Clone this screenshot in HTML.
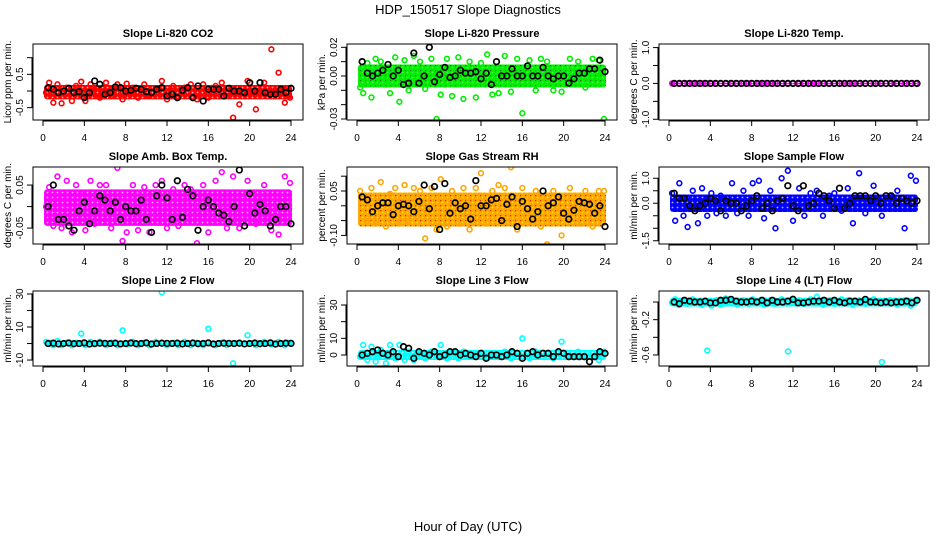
<!DOCTYPE html>
<html><head><meta charset="utf-8">
<style>
body{margin:0;background:#fff;}
svg{display:block;font-family:"Liberation Sans",Arial,sans-serif;}
</style></head>
<body>
<svg id="chart" width="936" height="540" viewBox="0 0 936 540">
<defs id="defs"></defs>
<text x="468" y="14" text-anchor="middle" font-size="13">HDP_150517  Slope Diagnostics</text>
<text x="468" y="531" text-anchor="middle" font-size="13">Hour of Day (UTC)</text>
</svg>
<script>
const xTicks=[0,4,8,12,16,20,24];
const colorHours=[0.3,0.6,1.0,1.4,1.8,2.3,2.8,3.2,3.7,4.1,4.6,5.0,5.5,6.1,6.6,7.2,7.7,8.1,8.7,9.2,9.8,10.3,10.9,11.5,12.0,12.6,13.1,13.7,14.3,14.9,15.5,16.0,16.7,17.3,17.8,18.4,19.0,19.8,20.6,21.4,22.1,22.8,23.4,23.9];
const blackHours=[0.5,1,1.5,2,2.5,3,3.5,4,4.5,5,5.5,6,6.5,7,7.5,8,8.5,9,9.5,10,10.5,11,11.5,12,12.5,13,13.5,14,14.5,15,15.5,16,16.5,17,17.5,18,18.5,19,19.5,20,20.5,21,21.5,22,22.5,23,23.5,24];
const panelTitles=["Slope Li-820 CO2","Slope Li-820 Pressure","Slope Li-820 Temp.","Slope Amb. Box Temp.","Slope Gas Stream RH","Slope Sample Flow","Slope Line 2 Flow","Slope Line 3 Flow","Slope Line 4 (LT) Flow"];
const yTitles=["Licor ppm per min.","kPa per min.","degrees C per min.","degrees C per min.","percent per min.","ml/min per min.","ml/min per min.","ml/min per min.","ml/min per min."];
const yTickVals=[[-0.5,0,0.5,1],[-0.03,-0.02,-0.01,0,0.01,0.02],[-1,-0.5,0,0.5,1],[-0.05,0,0.05],[-0.1,-0.05,0,0.05,0.1],[-1.5,-1,-0.5,0,0.5,1],[-10,0,10,20,30],[0,10,20,30],[-0.6,-0.4,-0.2,0]];
const yTickLabels=[["-0.5","","0.5",""],["-0.03","","","0.00","","0.02"],["-1.0","","0.0","","1.0"],["-0.05","","0.05"],["-0.10","","","0.05",""],["-1.5","","","0.0","","1.0"],["-10","","10","","30"],["0","10","","30"],["-0.6","","-0.2",""]];
const yRanges=[[-0.87,1.41],[-0.0307,0.0223],[-1.02,1.1],[-0.087,0.092],[-0.129,0.131],[-1.63,1.45],[-13.6,31.8],[-6.6,38.4],[-0.725,0.125]];
const bandLow=[-0.25,-0.008,-0.02,-0.045,-0.07,-0.35,-1,-3,-0.05];
const bandHigh=[0.18,0.008,0.02,0.04,0.045,0.35,1.5,3,0.05];
const colors=["#ff0000","#00ee00","#ff00ff","#ff00ff","#ffa500","#0000ff","#00ffff","#00ffff","#00ffff"];
const co2Color=[-0.05,0.25,-0.35,0.2,-0.37,0.1,-0.3,0.15,0.28,-0.3,0.2,0.05,-0.2,0.25,-0.15,0.2,-0.25,0.22,0.1,-0.2,0.2,-0.15,0.05,0.3,-0.25,0.15,-0.2,0.1,0.2,-0.25,0.2,-0.2,0.15,0.25,-0.15,-0.8,-0.4,0.3,-0.55,0.25,1.25,0.55,-0.35,-0.2];
const co2Black=[0.1,0.05,-0.05,0.0,0.08,-0.05,-0.02,-0.2,-0.05,0.3,0.2,-0.1,-0.05,0.12,0.1,0.0,0.02,0.08,0.05,-0.02,-0.05,0.05,0.1,-0.15,-0.1,-0.2,0.02,0.1,-0.2,0.15,-0.3,0.05,0.05,0.05,-0.15,0.08,0.0,0.0,-0.05,0.25,0.0,0.25,-0.05,-0.1,-0.1,0.05,-0.05,0.08];
const presColor=[-0.008,-0.012,0.009,-0.015,0.012,0.01,-0.006,-0.012,0.013,-0.018,0.011,-0.01,0.014,0.01,-0.009,0.012,-0.03,-0.013,0.012,-0.014,0.013,-0.016,0.01,-0.015,0.009,0.015,-0.013,-0.012,0.014,-0.011,0.012,-0.026,0.011,-0.01,0.012,0.01,-0.01,-0.011,0.012,0.01,-0.008,0.012,0.011,-0.03];
const presBlack=[0.01,0.002,0.0,0.002,0.004,0.008,0.0,0.004,-0.006,-0.005,0.016,-0.005,0.0,0.02,-0.004,0.001,0.006,-0.001,0.0,0.004,0.002,0.002,0.003,-0.002,0.002,-0.006,0.01,0.0,0.0,0.005,0.0,0.0,0.007,0.0,0.0,0.006,0.0,-0.002,0.0,0.0,-0.005,-0.002,0.002,0.002,0.005,0.005,0.011,0.003];
const tempColor=colorHours.map(()=>0);
const tempBlack=blackHours.map(()=>0);
const boxColor=[0.0,0.045,-0.045,0.07,-0.05,0.06,-0.06,0.05,0.03,-0.055,0.06,-0.04,0.05,0.05,-0.05,0.09,-0.08,-0.06,0.05,-0.055,0.045,-0.06,0.05,0.06,-0.05,0.04,-0.045,0.05,0.04,-0.085,0.05,-0.06,0.06,0.08,-0.05,0.07,-0.05,0.06,-0.04,0.05,-0.055,-0.065,0.07,0.055];
const boxBlack=[0.0,0.05,-0.03,-0.03,-0.045,-0.055,-0.01,0.01,-0.04,-0.01,0.025,0.015,-0.01,0.01,-0.03,0.0,-0.01,-0.01,0.015,-0.03,-0.06,0.025,0.05,0.02,-0.03,0.06,-0.025,0.04,0.025,-0.055,0.0,0.015,0.0,-0.015,-0.02,-0.035,0.0,0.085,-0.045,0.03,-0.015,0.005,-0.01,-0.045,-0.03,0.0,0.0,-0.04];
const rhColor=[0.05,0.03,-0.05,0.06,-0.06,0.08,-0.07,0.04,0.06,-0.06,0.07,-0.05,0.06,0.05,-0.11,0.06,-0.08,0.09,-0.07,0.05,-0.06,0.06,-0.08,0.06,0.11,-0.06,0.05,0.07,0.06,0.13,-0.08,0.06,-0.05,0.05,-0.07,-0.13,0.05,-0.1,0.06,-0.06,0.05,-0.07,0.05,0.05];
const rhBlack=[0.03,0.02,-0.02,0.0,0.01,0.01,-0.03,0.0,0.005,0.0,-0.02,0.015,0.07,-0.01,0.065,-0.08,0.075,-0.025,0.01,-0.01,0.0,-0.045,0.085,0.0,0.0,0.02,0.025,-0.05,0.005,0.03,-0.07,0.015,-0.01,-0.045,-0.02,0.05,0.0,0.01,0.03,-0.025,-0.045,-0.015,0.015,0.01,0.005,-0.025,0.0,-0.07];
const sampColor=[0.4,-0.7,0.8,-0.5,-0.95,0.5,-0.8,0.6,-0.5,0.4,-0.4,0.3,-0.5,0.8,-0.4,0.5,-0.5,0.8,0.9,-0.6,0.5,-1.0,1.0,1.3,-0.7,0.6,-0.5,0.4,0.5,-0.5,0.3,0.4,-0.3,0.6,-0.8,1.2,-0.4,0.7,-0.5,0.3,0.5,-1.0,1.1,0.9];
const sampBlack=[0.4,0.2,0.2,-0.1,-0.3,-0.1,0.0,0.2,0.1,-0.3,0.1,0.0,0.0,-0.3,-0.1,0.1,0.3,-0.2,0.0,-0.3,0.1,0.2,0.7,-0.1,-0.3,0.7,-0.1,0.0,0.4,0.3,0.1,-0.2,0.6,-0.2,0.0,0.3,0.3,0.3,0.1,0.3,0.0,0.3,0.3,0.0,0.2,0.1,0.0,0.1];
const l2Color=[1,0.5,-1,1.5,-1,0.5,-1,0.5,6,-1,1,-0.5,1,-1,0.5,-1,8,-0.5,1,-1,0.5,-1,1,31,-1,0.5,-1,1,-1,0.5,-1,9,-1,0.5,-1,-12,0.5,5,-1,1,-0.5,1,-1,0.5];
const l2Black=[0,0.2,-0.2,0,0.3,-0.1,0,0.4,-0.3,0,0.2,0.1,0,0.2,-0.2,0,0.3,-0.1,0,0.4,-0.3,0,0.2,0.1,0,0.2,-0.2,0,0.3,-0.1,0,0.4,-0.3,0,0.2,0.1,0,0.2,-0.2,0,0.3,-0.1,0,0.4,-0.3,0,0.2,0.1];
const l3Color=[-1,6,-3,5,-4,3,-5,6,-2,6,-3,2,-3,1,-2,2,-1,6,-2,1,-2,2,-1,1,41,-2,1,-1,2,-2,1,10,-2,2,-1,1,-2,8,-1,2,-1,1,-3,2];
const l3Black=[0,1,2,3,1,0,2,-1,5,4,-2,2,1,0,2,-1,0,2,2,0,1,0,-1,1,-2,0,0,-1,0,2,1,-2,1,2,0,1,1,-1,2,1,-1,-1,-1,-1,-4,-1,2,1];
const l4Color=[-0.01,0.03,-0.03,0.02,-0.02,0.03,0.0,-0.03,-0.55,-0.04,0.02,-0.03,0.04,0.02,-0.03,0.02,-0.02,0.03,0.0,-0.03,0.02,-0.02,0.03,-0.56,0.04,0.02,-0.02,0.03,0.06,-0.03,0.02,-0.02,0.03,0.02,-0.03,0.02,-0.02,0.03,-0.68,0.02,-0.03,0.02,-0.04,0.02];
const l4Black=[0.0,-0.02,0.02,0.01,0.0,0.0,0.01,-0.01,-0.01,0.02,0.02,0.03,0.01,0.0,0.0,0.01,0.0,0.02,-0.01,0.02,0.0,0.0,0.01,0.03,-0.01,-0.01,0.0,0.01,0.01,0.02,0.0,0.02,0.0,-0.01,0.01,0.01,0.0,0.03,0.0,0.0,-0.01,0.0,-0.01,0.0,0.0,0.01,-0.01,0.02];
const colorSeries=[co2Color,presColor,tempColor,boxColor,rhColor,sampColor,l2Color,l3Color,l4Color];
const blackSeries=[co2Black,presBlack,tempBlack,boxBlack,rhBlack,sampBlack,l2Black,l3Black,l4Black];

const NS="http://www.w3.org/2000/svg";
const svg=document.getElementById('chart');
const defs=document.getElementById('defs');
const colLeft=[33,347,659], rowTop=[44,167,291], boxW=270, boxH=[76,77,75];
function mk(tag,attrs,parent){const e=document.createElementNS(NS,tag);for(const k in attrs)e.setAttribute(k,attrs[k]);parent.appendChild(e);return e;}
function slug(s){return s.toLowerCase().replace(/[^a-z0-9]+/g,'-').replace(/^-|-$/g,'');}
for(let p=0;p<9;p++){
  const pat=mk('pattern',{id:'pt'+p,width:5,height:5,patternUnits:'userSpaceOnUse'},defs);
  mk('rect',{width:5,height:5,fill:colors[p]},pat);
  mk('circle',{cx:2.5,cy:2.5,r:0.9,fill:p===4?'#ffff00':'#ffffff',opacity:p===1?0.3:0.7},pat);
  if(p===1||p===4) mk('rect',{x:0,y:0,width:1.2,height:1.2,fill:p===1?'#117711':'#cc3300'},pat);
}
for(let p=0;p<9;p++){
  const L=colLeft[p%3], T=rowTop[Math.floor(p/3)], H=boxH[Math.floor(p/3)];
  const [y0,y1]=yRanges[p];
  const xs=h=>L+10+h*248/24;
  const ys=v=>T+H-(v-y0)/(y1-y0)*H;
  const g=mk('g',{},svg);
  
  
  const t=mk('text',{x:L+boxW/2,y:T-7,'text-anchor':'middle','font-size':'11','font-weight':'bold'},g);
  t.textContent=panelTitles[p];
  
  
  const cid='c'+p;
  const cp=mk('clipPath',{id:cid},g); mk('rect',{x:L,y:T,width:boxW,height:H},cp);
  const pg=mk('g',{'clip-path':'url(#'+cid+')'},g);
  const band=mk('rect',{x:xs(0.1),y:ys(bandHigh[p]),width:xs(24.1)-xs(0.1),height:ys(bandLow[p])-ys(bandHigh[p]),fill:'url(#pt'+p+')',rx:3},pg);
  
  
  colorSeries[p].forEach((v,i)=>{
    const c=mk('circle',{cx:xs(colorHours[i]),cy:ys(v),r:2.4,fill:'none',stroke:colors[p],'stroke-width':1.6},pg);
    
    
  });
  blackSeries[p].forEach((v,i)=>{
    const c=mk('circle',{cx:xs(blackHours[i]),cy:ys(v),r:2.8,fill:'none',stroke:'#000','stroke-width':1.7},pg);
    
    
  });
  const box=mk('rect',{x:L,y:T,width:boxW,height:H,fill:'none',stroke:'#000','stroke-width':1},g);
  
  
  mk('line',{x1:xs(0),x2:xs(24),y1:T+H+1,y2:T+H+1,stroke:'#000'},g);
  xTicks.forEach(h=>{
    mk('line',{x1:xs(h),x2:xs(h),y1:T+H,y2:T+H+6,stroke:'#000'},g);
    const lt=mk('text',{x:xs(h),y:T+H+21,'text-anchor':'middle','font-size':'10'},g);
    lt.textContent=h;
    
    
  });
  const tv=yTickVals[p];
  mk('line',{x1:L-1,x2:L-1,y1:ys(tv[0]),y2:ys(tv[tv.length-1]),stroke:'#000'},g);
  tv.forEach((v,i)=>{
    mk('line',{x1:L-6,x2:L,y1:ys(v),y2:ys(v),stroke:'#000'},g);
    if(yTickLabels[p][i]){
      const yl=mk('text',{x:L-10,y:ys(v),'text-anchor':'middle','font-size':'10',transform:`rotate(-90 ${L-10} ${ys(v)})`},g);
      yl.textContent=yTickLabels[p][i];
      
      
    }
  });
  const yt=mk('text',{x:L-22,y:T+H/2,'text-anchor':'middle','font-size':'10',transform:`rotate(-90 ${L-22} ${T+H/2})`},g);
  yt.textContent=yTitles[p];
  
  
}
</script>
</body></html>
